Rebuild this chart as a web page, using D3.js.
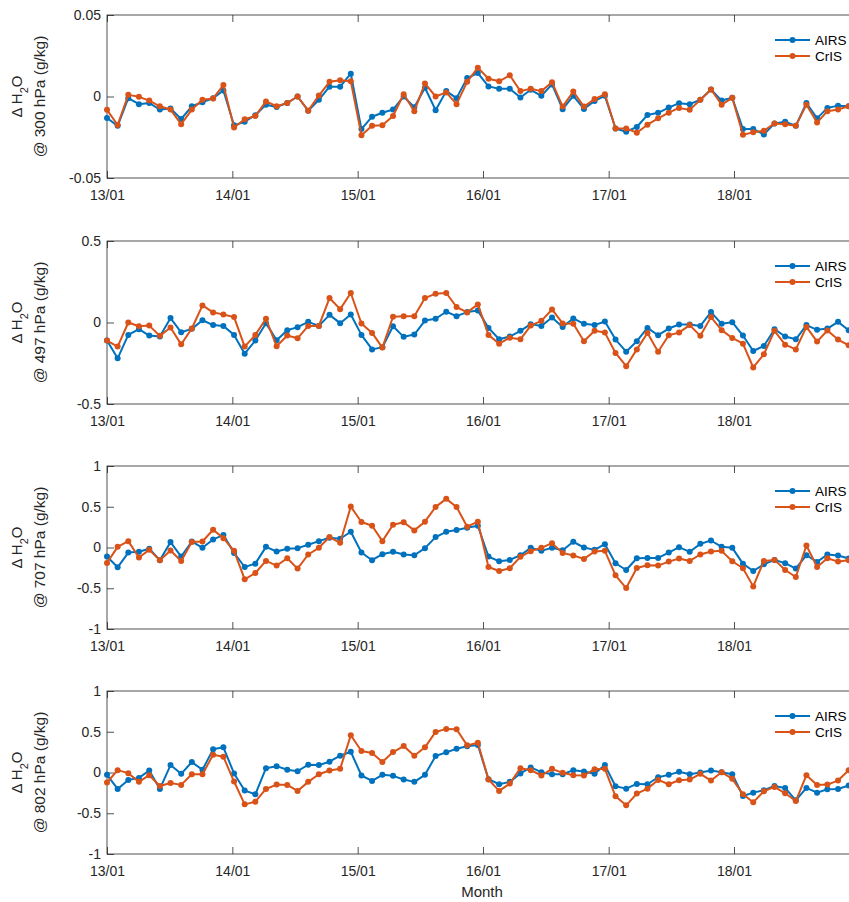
<!DOCTYPE html>
<html><head><meta charset="utf-8">
<script src="https://cdn.jsdelivr.net/npm/d3@7"></script>
<style>body{margin:0;background:#fff}svg{display:block;font-family:"Liberation Sans",Arial,Helvetica,sans-serif}</style>
</head><body><svg id="c" width="849" height="902"></svg>
<script>
// ---- data ----
const seriesNames = ["AIRS", "CrIS"];
const xTickLabels = ["13/01","14/01","15/01","16/01","17/01","18/01"];
const pressureLevels = [300, 497, 707, 802];

const airs300 = [-0.0132,-0.018,-0.001,-0.0047,-0.004,-0.008,-0.0074,-0.0138,-0.006,-0.0035,-0.001,0.0037,
 -0.0177,-0.0155,-0.0115,-0.005,-0.0064,-0.004,0,-0.0087,-0.002,0.006,0.006,0.014,
 -0.020,-0.0124,-0.010,-0.008,0,-0.0066,0.0054,-0.0084,0.0033,-0.001,0.0113,0.0144,
 0.0062,0.0047,0.0047,-0.0006,0.0041,0.0004,0.0074,-0.0078,0.0004,-0.0076,-0.0027,0.0004,
 -0.0196,-0.0216,-0.0187,-0.0113,-0.010,-0.0068,-0.0041,-0.0047,-0.002,0.0043,-0.0025,-0.0008,
 -0.020,-0.020,-0.0233,-0.0165,-0.0155,-0.018,-0.004,-0.0134,-0.007,-0.0056,-0.006];
const cris300 = [-0.0082,-0.0175,0.001,-0.0002,-0.0025,-0.006,-0.008,-0.017,-0.008,-0.002,-0.0012,0.007,
 -0.019,-0.014,-0.012,-0.003,-0.006,-0.004,0,-0.0087,0.0006,0.009,0.010,0.0093,
 -0.0237,-0.018,-0.0177,-0.012,0.0014,-0.009,0.008,0,0.0025,-0.0047,0.009,0.0177,
 0.0109,0.0093,0.013,0.0033,0.0047,0.0033,0.0088,-0.0062,0.003,-0.0062,-0.0016,0.0014,
 -0.0196,-0.0196,-0.0222,-0.0173,-0.0134,-0.0099,-0.007,-0.0082,-0.002,0.0043,-0.005,-0.0008,
 -0.0235,-0.022,-0.021,-0.0165,-0.017,-0.018,-0.005,-0.016,-0.009,-0.008,-0.006];

const airs497 = [-0.111,-0.220,-0.076,-0.041,-0.080,-0.086,0.027,-0.060,-0.039,0.014,-0.016,-0.021,
 -0.076,-0.191,-0.111,-0.004,-0.109,-0.047,-0.029,0.004,-0.021,0.047,-0.004,0.049,
 -0.076,-0.165,-0.152,-0.023,-0.088,-0.074,0.012,0.023,0.066,0.039,0.064,0.074,
 -0.033,-0.103,-0.086,-0.051,-0.010,-0.021,0.031,-0.027,0.025,-0.008,-0.016,0.006,
 -0.105,-0.179,-0.115,-0.033,-0.078,-0.037,-0.012,-0.012,-0.021,0.064,-0.008,0.002,
 -0.080,-0.175,-0.144,-0.041,-0.086,-0.103,-0.016,-0.045,-0.037,0.004,-0.047];
const cris497 = [-0.111,-0.148,0,-0.023,-0.019,-0.082,-0.031,-0.134,-0.037,0.105,0.062,0.049,
 0.033,-0.148,-0.076,0.023,-0.146,-0.080,-0.097,-0.021,-0.021,0.150,0.082,0.181,
 -0.006,-0.064,-0.154,0.035,0.039,0.039,0.150,0.177,0.181,0.095,0.062,0.111,
 -0.076,-0.130,-0.093,-0.103,-0.019,0.010,0.080,-0.006,-0.008,-0.115,-0.051,-0.062,
 -0.187,-0.268,-0.165,-0.064,-0.179,-0.078,-0.062,-0.016,-0.082,0.033,-0.047,-0.095,
 -0.130,-0.276,-0.195,-0.051,-0.136,-0.165,-0.027,-0.117,-0.049,-0.105,-0.140];

const airs707 = [-0.111,-0.243,-0.062,-0.053,-0.016,-0.156,0.066,-0.111,0.074,-0.004,0.099,0.152,
 -0.066,-0.239,-0.198,0.008,-0.049,-0.016,-0.008,0.033,0.078,0.119,0.107,0.193,
 -0.062,-0.156,-0.082,-0.053,-0.086,-0.095,-0.008,0.128,0.193,0.214,0.243,0.267,
 -0.111,-0.169,-0.152,-0.095,-0.004,-0.041,-0.004,-0.033,0.070,0,-0.029,0.041,
 -0.193,-0.276,-0.132,-0.128,-0.128,-0.062,0.004,-0.053,0.045,0.086,0.008,-0.004,
 -0.198,-0.288,-0.206,-0.152,-0.193,-0.259,-0.095,-0.177,-0.086,-0.099,-0.136];
const cris707 = [-0.189,0.008,0.078,-0.123,-0.029,-0.156,-0.037,-0.165,0.066,0.074,0.218,0.115,
 -0.041,-0.391,-0.313,-0.165,-0.222,-0.132,-0.259,-0.086,-0.004,0.128,0.058,0.502,
 0.313,0.267,0.078,0.280,0.309,0.210,0.317,0.498,0.597,0.498,0.255,0.317,
 -0.239,-0.288,-0.255,-0.115,-0.045,-0.004,0.053,-0.066,-0.099,-0.140,-0.049,-0.041,
 -0.342,-0.498,-0.251,-0.218,-0.222,-0.173,-0.136,-0.165,-0.086,-0.049,-0.041,-0.169,
 -0.255,-0.477,-0.165,-0.152,-0.276,-0.362,0.025,-0.239,-0.132,-0.173,-0.156];

const airs802 = [-0.029,-0.202,-0.091,-0.066,0.025,-0.202,0.091,-0.016,0.128,0.033,0.284,0.309,
 -0.012,-0.222,-0.267,0.053,0.078,0.033,0.016,0.095,0.091,0.132,0.206,0.255,
 -0.037,-0.103,-0.029,-0.041,-0.086,-0.115,-0.029,0.202,0.247,0.292,0.321,0.337,
 -0.082,-0.144,-0.115,-0.012,0.062,0.004,-0.021,-0.021,0.029,0.012,-0.016,0.091,
 -0.169,-0.198,-0.140,-0.144,-0.058,-0.029,0.008,-0.021,0,0.025,0.004,-0.021,
 -0.288,-0.247,-0.218,-0.165,-0.189,-0.342,-0.189,-0.247,-0.206,-0.202,-0.160];
const cris802 = [-0.123,0.029,-0.008,-0.115,-0.033,-0.165,-0.128,-0.152,-0.021,-0.021,0.218,0.193,
 -0.111,-0.391,-0.358,-0.202,-0.148,-0.152,-0.226,-0.115,-0.021,0.025,0.045,0.457,
 0.263,0.239,0.128,0.251,0.325,0.206,0.309,0.498,0.535,0.531,0.333,0.366,
 -0.086,-0.226,-0.136,0.053,0.029,-0.037,0.045,-0.004,-0.033,-0.037,0.041,0.045,
 -0.292,-0.403,-0.259,-0.198,-0.091,-0.144,-0.095,-0.086,-0.016,-0.099,0.004,-0.078,
 -0.267,-0.366,-0.230,-0.177,-0.255,-0.350,-0.033,-0.152,-0.148,-0.099,0.029];

const yTicks = [[-0.05,0,0.05],[-0.5,0,0.5],[-1,-0.5,0,0.5,1],[-1,-0.5,0,0.5,1]];
const yTickLabels = [["-0.05","0","0.05"],["-0.5","0","0.5"],["-1","-0.5","0","0.5","1"],["-1","-0.5","0","0.5","1"]];
const yDomains = [[-0.05,0.05],[-0.5,0.5],[-1,1],[-1,1]];
const panelData = [[airs300,cris300],[airs497,cris497],[airs707,cris707],[airs802,cris802]];

// ---- layout ----
const colors = ["#0072BD","#D95319"];
const axisColor = "#262626";
const panelTops = [15, 241, 466, 691];
const panelH = 163;
const x0 = 107;
const start = new Date(2013,0,1), end = new Date(2019,0,1);
const x = d3.scaleTime().domain([start,end]).range([x0, x0 + d3.timeDay.count(start,end)*0.34337]);
const tickDates = xTickLabels.map((s)=>new Date(2000+ +s.slice(0,2), +s.slice(3)-1, 1));
const pointDate = (i)=>d3.timeDay.offset(start, Math.round(i*30.86));

const svg = d3.select("#c");

panelData.forEach((series, p)=>{
  const top = panelTops[p], bot = top + panelH;
  const y = d3.scaleLinear().domain(yDomains[p]).range([bot, top]);
  const g = svg.append("g");
  const xr = x.range();
  g.append("rect").attr("x",xr[0]).attr("y",top).attr("width",xr[1]-xr[0]).attr("height",panelH)
    .attr("fill","none").attr("stroke",axisColor).attr("stroke-width",0.8);
  const xb = d3.axisBottom(x).tickValues(tickDates).tickFormat((d,i)=>xTickLabels[i]).tickSizeInner(-7).tickSizeOuter(0).tickPadding(12);
  const ga = g.append("g").attr("transform",`translate(0,${bot})`).call(xb);
  const xt = d3.axisTop(x).tickValues(tickDates).tickFormat("").tickSizeInner(-7).tickSizeOuter(0);
  const gt = g.append("g").attr("transform",`translate(0,${top})`).call(xt);
  const yl = d3.axisLeft(y).tickValues(yTicks[p]).tickFormat((d,i)=>yTickLabels[p][i]).tickSizeInner(-7).tickSizeOuter(0).tickPadding(6);
  const gl = g.append("g").attr("transform",`translate(${x0},0)`).call(yl);
  [ga,gt,gl].forEach(a=>{
    a.select(".domain").remove();
    a.selectAll("line").attr("stroke",axisColor).attr("stroke-width",0.8);
    a.selectAll("text").attr("fill",axisColor).style("font-size","14px").style("font-family",'"Liberation Sans",Arial,sans-serif');
  });
  const cy = (top+bot)/2;
  const lab = g.append("text").attr("transform",`translate(22,${cy}) rotate(-90)`).attr("text-anchor","middle")
    .attr("fill",axisColor).style("font-size","15px");
  lab.append("tspan").text("Δ H");
  lab.append("tspan").text("2").attr("baseline-shift","sub").style("font-size","11px");
  lab.append("tspan").text("O");
  g.append("text").attr("transform",`translate(40,${cy}) rotate(-90)`).attr("text-anchor","middle")
    .attr("dy","0.35em").attr("fill",axisColor).style("font-size","15.5px")
    .text(`@ ${pressureLevels[p]} hPa (g/kg)`);
  series.forEach((vals, s)=>{
    const line = d3.line().x((d,i)=>x(pointDate(i))).y(d=>y(d));
    g.append("path").datum(vals).attr("d",line).attr("fill","none").attr("stroke",colors[s]).attr("stroke-width",2).attr("stroke-linejoin","round");
    g.selectAll(null).data(vals).enter().append("circle")
      .attr("cx",(d,i)=>x(pointDate(i))).attr("cy",d=>y(d)).attr("r",3).attr("fill",colors[s]);
  });
  seriesNames.forEach((n,s)=>{
    const ly = top + 25 + s*16;
    g.append("line").attr("x1",775).attr("x2",810).attr("y1",ly).attr("y2",ly).attr("stroke",colors[s]).attr("stroke-width",2);
    g.append("circle").attr("cx",792.5).attr("cy",ly).attr("r",3).attr("fill",colors[s]);
    g.append("text").attr("x",815).attr("y",ly).attr("dy","0.35em").attr("fill","#000").style("font-size","13.5px").text(n);
  });
});

svg.append("text").attr("x",482).attr("y",897).attr("text-anchor","middle").attr("fill",axisColor)
  .style("font-size","15px").text("Month");
</script></body></html>
